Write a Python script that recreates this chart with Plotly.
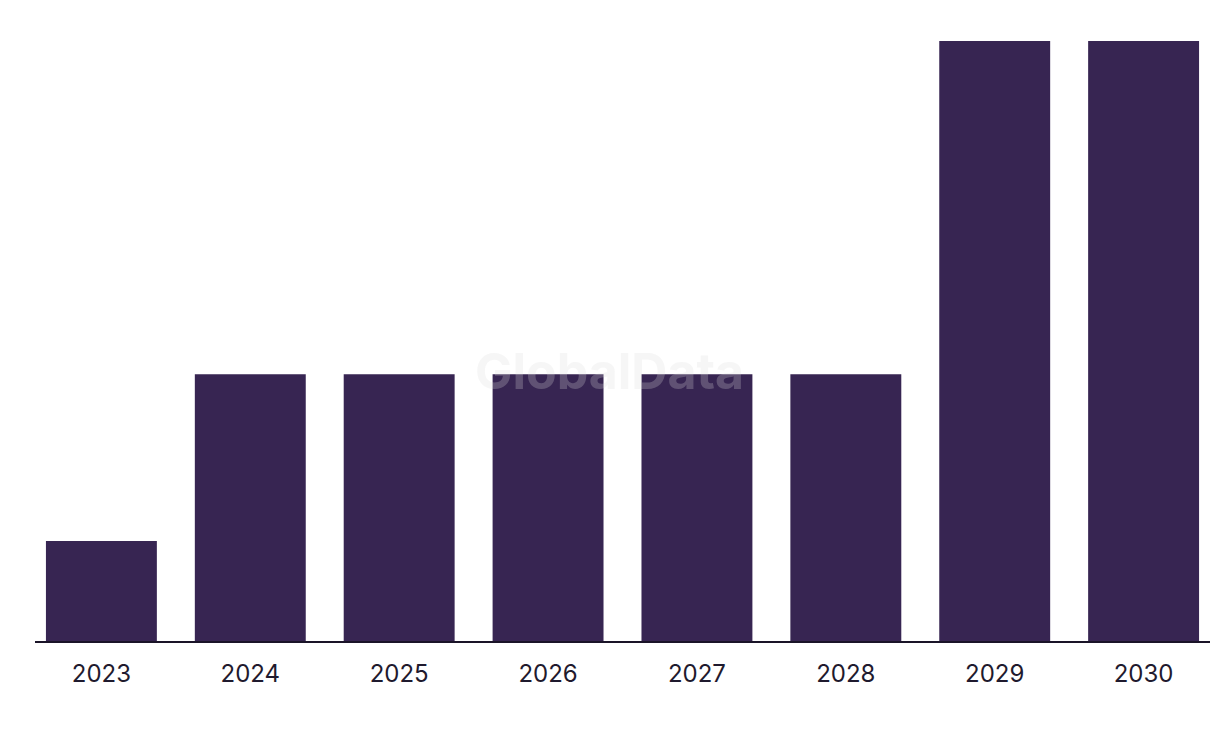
import plotly.graph_objects as go

years = ["2023", "2024", "2025", "2026", "2027", "2028", "2029", "2030"]
values = [3, 8, 8, 8, 8, 8, 18, 18]

fig = go.Figure()
fig.add_trace(go.Bar(x=years, y=values, marker_color="#372552", marker_line_width=0,
                     hoverinfo="x+y"))

fig.update_layout(
    width=1220, height=738,
    margin=dict(l=27, r=18, t=33, b=105),
    plot_bgcolor="white", paper_bgcolor="white",
    bargap=0.255, showlegend=False,
    font=dict(family="Inter", color="#1f1a2e"),
    xaxis=dict(type="category", range=[-0.446, 7.446], showgrid=False,
               showline=True, linecolor="#1a1428", linewidth=2,
               ticks="", tickfont=dict(size=24), ticklabelstandoff=10),
    yaxis=dict(range=[0, 18], visible=False, showgrid=False, zeroline=False),
    annotations=[dict(text="<b>GlobalData</b>", x=0.489, y=0.45, xref="paper", yref="paper",
                      showarrow=False, font=dict(size=50, color="rgba(220,220,220,0.25)"))],
)

fig.write_html("out.html")
